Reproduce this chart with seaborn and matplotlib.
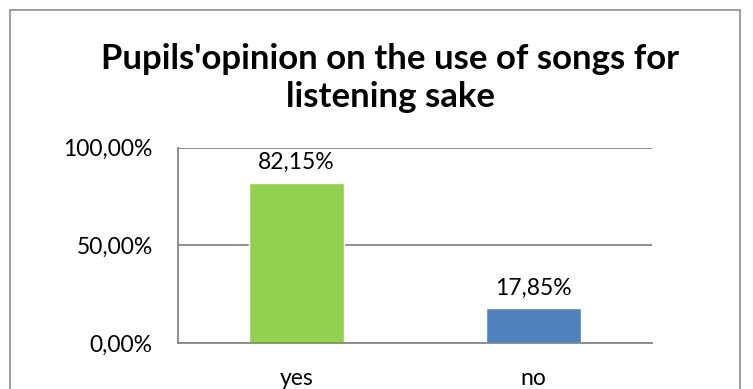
import matplotlib
matplotlib.use('Agg')
import matplotlib.pyplot as plt
import matplotlib.ticker as mticker
from matplotlib.patches import Rectangle
import seaborn as sb
import pandas as pd

categories = ['yes', 'no']
values = [0.8215, 0.1785]
bar_colors = ['#92D050', '#4F81BD']
title = "Pupils'opinion on the use of songs for\nlistening sake"


def pct(v):
    return f'{v*100:.2f}%'.replace('.', ',')


sb.set_style('white')
plt.rcParams['font.family'] = ['Lato', 'DejaVu Sans']
plt.rcParams['text.color'] = 'black'

df = pd.DataFrame({'answer': categories, 'share': values})

fig = plt.figure(figsize=(7.53, 3.89), dpi=100)
ax = fig.add_axes([0.236, 0.118, 0.63, 0.502])

sb.barplot(data=df, x='answer', y='share', hue='answer', palette=bar_colors,
           width=0.4, legend=False, ax=ax, saturation=1)

ax.set_xlim(-0.5, 1.5)
ax.set_ylim(0, 1)
ax.set_yticks([0, 0.5, 1])
ax.yaxis.set_major_formatter(mticker.FuncFormatter(lambda v, p: pct(v)))
ax.set_xlabel('')
ax.set_ylabel('')

grid_c = '#868686'
ax.grid(axis='y', color=grid_c, lw=1.3)
ax.set_axisbelow(True)
for s in ['top', 'right']:
    ax.spines[s].set_visible(False)
for s in ['left', 'bottom']:
    ax.spines[s].set_color(grid_c)
    ax.spines[s].set_linewidth(1.3)

ax.tick_params(axis='y', length=5, width=1.3, color=grid_c, direction='out',
               labelsize=16.5, pad=13, labelcolor='black')
ax.tick_params(axis='x', which='major', length=0, labelsize=16.5, pad=18, labelcolor='black')
ax.set_xticks([-0.5, 0.5, 1.5], minor=True)
ax.tick_params(axis='x', which='minor', length=6, width=1.3, color=grid_c, direction='out')

# data labels above bars
for i, v in enumerate(values):
    ax.annotate(pct(v), (i, v), xytext=(0, 7), textcoords='offset points',
                ha='center', va='bottom', fontsize=16.5, color='black')

fig.text(0.518, 0.80, title, ha='center', va='center', fontsize=25, fontweight='bold',
         linespacing=1.25, color='black')

frame = Rectangle((10 / 753, -0.1), 730 / 753, 1.1 - 10 / 389, transform=fig.transFigure,
                  fill=False, edgecolor='#8c8c8c', lw=1.2, clip_on=False)
fig.patches.append(frame)

fig.savefig('out.png', dpi=100)
